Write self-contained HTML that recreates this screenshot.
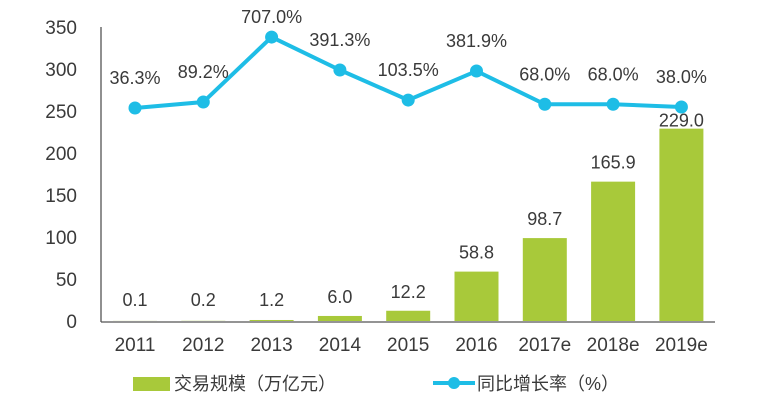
<!DOCTYPE html>
<html><head><meta charset="utf-8"><style>
body{margin:0;background:#fff;}
svg{display:block;font-family:"Liberation Sans","Noto Sans CJK SC",sans-serif;}
</style></head><body>
<svg id="chart" width="776" height="401" viewBox="0 0 776 401" xmlns="http://www.w3.org/2000/svg">
<g id="axes"></g>
<g id="bars"></g>
<g id="line"></g>
<g>
<rect x="133" y="377" width="37" height="14" fill="#a8c93a"/>
<text x="174" y="390" font-size="18" fill="#3a3a3a">交易规模（万亿元）</text>
<line x1="433" y1="383" x2="475" y2="383" stroke="#1ebde6" stroke-width="4"/>
<circle cx="454" cy="383" r="6" fill="#1ebde6"/>
<text x="477" y="390" font-size="18" fill="#3a3a3a">同比增长率（%）</text>
</g>
</svg>
<script>
const categories=["2011","2012","2013","2014","2015","2016","2017e","2018e","2019e"];
const volumes=[0.1,0.2,1.2,6.0,12.2,58.8,98.7,165.9,229.0];
const volumeLabels=["0.1","0.2","1.2","6.0","12.2","58.8","98.7","165.9","229.0"];
const growthLabels=["36.3%","89.2%","707.0%","391.3%","103.5%","381.9%","68.0%","68.0%","38.0%"];
const growthPlotted=[253.6,260.7,338,298.8,263,297.6,258,258,254.8];
const yTicks=[0,50,100,150,200,250,300,350];

const NS="http://www.w3.org/2000/svg";
const y0=321,k=0.84,x0=135,dx=68.3;
const yS=v=>y0-v*k;
const xS=i=>x0+i*dx;
function mk(tag,attrs,parent,txt){const e=document.createElementNS(NS,tag);for(const a in attrs)e.setAttribute(a,attrs[a]);if(txt!==undefined)e.textContent=txt;parent.appendChild(e);return e;}
const axes=document.getElementById('axes'),bars=document.getElementById('bars'),line=document.getElementById('line');
let e=mk('line',{x1:101,y1:27,x2:101,y2:322,stroke:'#555','stroke-width':1.3},axes);


e=mk('line',{x1:101,y1:322,x2:715,y2:322,stroke:'#555','stroke-width':1.3},axes);


yTicks.forEach(t=>{
  const el=mk('text',{x:77,y:yS(t)+7,'text-anchor':'end','font-size':19,fill:'#3a3a3a'},axes,String(t));
  
  
});
categories.forEach((c,i)=>{
  const el=mk('text',{x:xS(i),y:351,'text-anchor':'middle','font-size':19,fill:'#3a3a3a'},axes,c);
  
  
  const top=yS(volumes[i]);
  const b=mk('rect',{x:xS(i)-22,y:top,width:44,height:y0-top,fill:'#a8c93a'},bars);
  
  
  const ly=Math.min(top-13,306);
  const lb=mk('text',{x:xS(i),y:ly<130?top-2:ly,'text-anchor':'middle','font-size':18,fill:'#3a3a3a'},bars,volumeLabels[i]);
  
  
});
const pts=growthPlotted.map((v,i)=>xS(i)+','+yS(v)).join(' ');
e=mk('polyline',{points:pts,fill:'none',stroke:'#1ebde6','stroke-width':4},line);


growthPlotted.forEach((v,i)=>{
  const p=mk('circle',{cx:xS(i),cy:yS(v),r:6.5,fill:'#1ebde6'},line);
  
  
  const t=mk('text',{x:xS(i),y:Math.max(yS(v)-24,23),'text-anchor':'middle','font-size':18,fill:'#3a3a3a'},line,growthLabels[i]);
  
  
});
</script>
</body></html>
